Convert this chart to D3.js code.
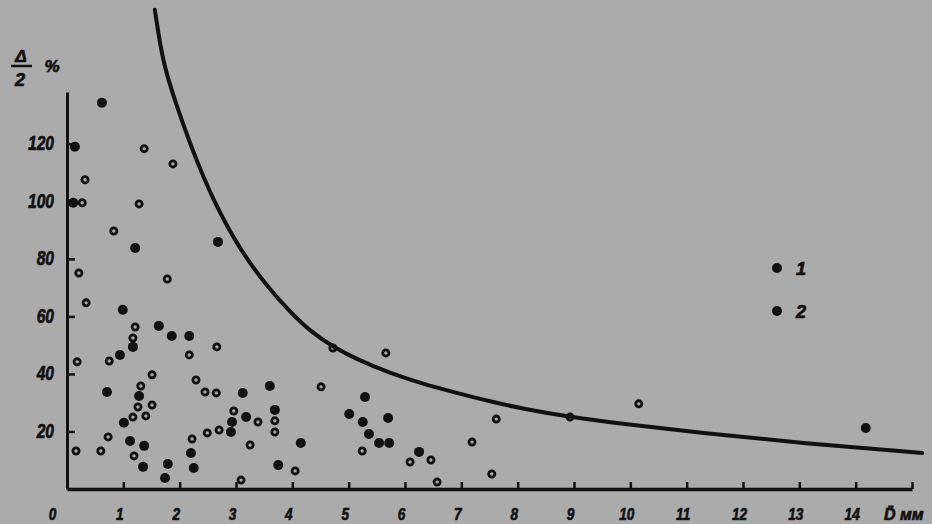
<!DOCTYPE html>
<html><head><meta charset="utf-8">
<script src="https://cdn.jsdelivr.net/npm/d3@7/dist/d3.min.js"></script>
<style>
html,body{margin:0;padding:0;background:#ababab;}
svg{display:block;}
text{font-family:"Liberation Sans",Arial,sans-serif;font-weight:bold;font-style:italic;fill:#111;stroke:#111;stroke-width:0.7px;}
</style></head>
<body>
<script>
// Series 1 (filled dots): [D mm, Δ/2 %]
const filledX = [0.62,0.14,0.11,1.21,2.68,0.99,1.63,1.86,2.17,1.17,0.94,1.28,0.71,3.12,3.60,1.01,3.18,2.93,3.69,2.91,1.12,1.37,2.20,4.15,1.35,2.25,3.75,1.74,1.79,5.01,5.29,5.25,5.70,5.36,5.54,5.72,6.25,14.18];
const filledY = [134.3,119.0,99.5,83.8,85.9,62.3,56.7,53.2,53.2,49.4,46.6,32.3,33.7,33.4,35.8,23.0,25.0,23.3,27.5,19.8,16.7,15.0,12.5,16.0,7.7,7.3,8.3,3.8,8.7,26.1,32.0,23.3,24.7,19.1,16.0,16.0,12.9,21.2];
// Series 2 (open circles)
const openX = [1.37,1.88,0.32,0.27,1.28,0.83,0.21,1.78,0.34,1.21,1.17,2.66,2.17,0.75,0.18,1.51,2.29,1.31,2.65,2.45,1.26,1.51,1.17,1.40,2.96,3.39,3.69,3.69,2.49,2.70,0.73,2.22,0.16,0.60,1.19,3.25,4.05,3.09,4.72,4.51,5.66,5.24,6.09,6.46,6.57,7.19,7.62,7.54,8.93,10.15];
const openY = [118.3,113.0,107.5,99.5,99.1,89.7,75.1,73.0,64.7,56.3,52.5,49.4,46.6,44.5,44.2,39.7,37.9,35.8,33.4,33.7,28.5,29.2,25.0,25.4,27.1,23.3,23.7,19.8,19.5,20.5,18.1,17.4,13.2,13.2,11.5,15.3,6.3,3.1,49.0,35.5,47.3,13.2,9.4,10.1,2.4,16.3,24.3,5.2,25.0,29.6];
// Boundary curve
const curveX = [1.56,1.70,1.95,2.24,2.59,3.07,3.55,3.96,4.31,4.72,5.15,5.73,6.32,6.92,7.51,8.10,8.93,9.87,11.24,13.01,15.18];
const curveY = [166.6,148.0,133.0,117.0,100.5,83.1,70.5,61.5,55.0,49.4,45.0,40.3,36.5,33.4,30.4,27.9,25.0,22.6,19.5,16.0,12.5];
// Ticks
const xTicks = [0,1,2,3,4,5,6,7,8,9,10,11,12,13,14,15];
const yTicks = [20,40,60,80,100,120];
const legendLabels = ["1","2"];

const W = 932, H = 524;
const svg = d3.select("body").append("svg").attr("width", W).attr("height", H);
svg.append("rect").attr("width", W).attr("height", H).attr("fill", "#ababab");

const x = d3.scaleLinear().domain([0, 15]).range([67, 912]);
const y = d3.scaleLinear().domain([0, 138]).range([489, 92]);

// Y axis
const ya = svg.append("g").attr("transform", `translate(${x(0)},0)`)
  .call(d3.axisLeft(y).tickValues(yTicks).tickSize(-8).tickSizeOuter(0).tickPadding(13));
ya.select(".domain").attr("stroke", "#111").attr("stroke-width", 3);
ya.selectAll(".tick line").attr("stroke", "#111").attr("stroke-width", 2.5);
ya.selectAll(".tick text").attr("font-size", 20).attr("font-family", null).attr("fill", "#111")
  .attr("transform", "scale(0.78,1)").attr("x", -13 / 0.78).attr("dy", "0.3em");

// X axis
const xa = svg.append("g").attr("transform", `translate(0,${y(0)})`)
  .call(d3.axisBottom(x).tickValues(xTicks).tickSize(-7).tickSizeOuter(0).tickPadding(19)
    .tickFormat(d => d === 15 ? "" : d));
xa.select(".domain").attr("stroke", "#111").attr("stroke-width", 3.5);
xa.selectAll(".tick line").attr("stroke", "#111").attr("stroke-width", 2.5)
  .attr("opacity", d => d === 0 ? 0 : 1);
xa.selectAll(".tick text").attr("font-size", 17).attr("font-family", null).attr("fill", "#111")
  .attr("transform", "scale(0.8,1)")
  .attr("x", d => (d === 0 ? -15 : -4) / 0.8);

// Curve
svg.append("path")
  .datum(curveX.map((d, i) => [d, curveY[i]]))
  .attr("fill", "none").attr("stroke", "#111").attr("stroke-width", 4)
  .attr("stroke-linecap", "round")
  .attr("d", d3.line().x(d => x(d[0])).y(d => y(d[1])).curve(d3.curveBasis));

// Points
svg.append("g").selectAll("circle").data(openX.map((d, i) => [d, openY[i]])).join("circle")
  .attr("cx", d => x(d[0])).attr("cy", d => y(d[1])).attr("r", 3.1)
  .attr("fill", "none").attr("stroke", "#111").attr("stroke-width", 2.8);
svg.append("g").selectAll("circle").data(filledX.map((d, i) => [d, filledY[i]])).join("circle")
  .attr("cx", d => x(d[0])).attr("cy", d => y(d[1])).attr("r", 5).attr("fill", "#111");

// Legend
const lg = svg.append("g");
const legY = [268, 311];
legendLabels.forEach((t, i) => {
  lg.append("circle").attr("cx", 777).attr("cy", legY[i]).attr("r", 5).attr("fill", "#111");
  lg.append("text").attr("x", 796).attr("y", legY[i] + 7).attr("font-size", 18).text(t);
});

// Y axis title Δ/2 %
svg.append("text").attr("x", 21).attr("y", 62).attr("text-anchor", "middle").attr("font-size", 17).attr("font-style", "normal").text("Δ");
svg.append("line").attr("x1", 11).attr("x2", 32).attr("y1", 66).attr("y2", 66).attr("stroke", "#111").attr("stroke-width", 2.5);
svg.append("text").attr("x", 20).attr("y", 86).attr("text-anchor", "middle").attr("font-size", 18).text("2");
svg.append("text").attr("x", 52).attr("y", 72).attr("text-anchor", "middle").attr("font-size", 17).text("%");

// X axis title
svg.append("text").attr("x", 884).attr("y", 520).attr("font-size", 16).text("D̄ мм");
</script>
</body></html>
